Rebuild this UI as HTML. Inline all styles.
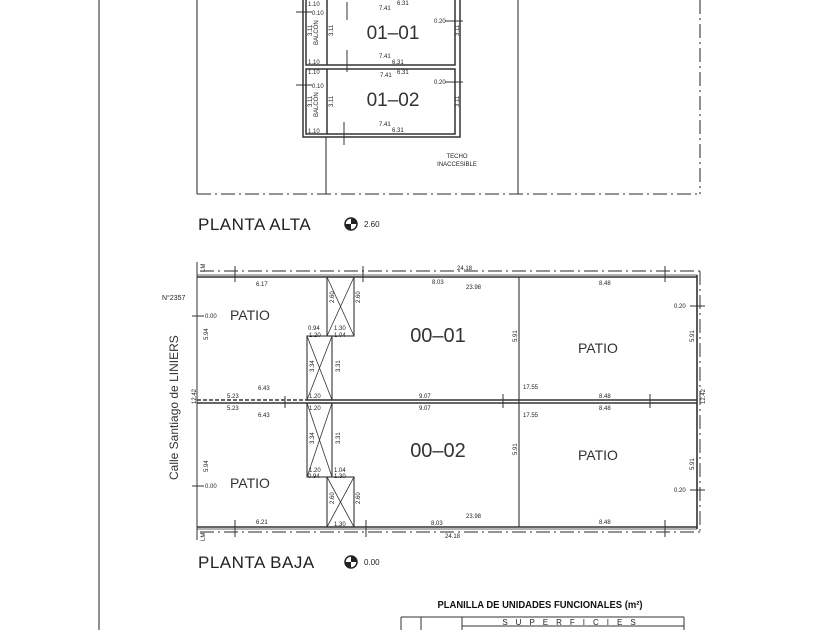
<!DOCTYPE html>
<html><head><meta charset="utf-8"><style>
html,body{margin:0;padding:0;background:#fff;}
svg{display:block;font-family:"Liberation Sans",sans-serif;}
.t{font-size:6px;fill:#222;}
</style></head><body>
<svg width="840" height="630" viewBox="0 0 840 630" xmlns="http://www.w3.org/2000/svg">
<rect width="840" height="630" fill="#fff"/>
<g stroke="#555" fill="none" stroke-width="1.3">
<line x1="99" y1="0" x2="99" y2="630"/>
<!-- planta alta -->
<line x1="197" y1="0" x2="197" y2="194"/>
<line x1="197" y1="194" x2="700" y2="194" stroke-dasharray="14,4,2,4"/>
<line x1="700" y1="0" x2="700" y2="194" stroke-dasharray="14,4,2,4"/>
<line x1="518" y1="0" x2="518" y2="194"/>
<line x1="326" y1="137" x2="326" y2="194"/>
</g>
<g stroke="#333" fill="none" stroke-width="1.5">
<rect x="303" y="-2" width="157" height="139"/>
<rect x="306" y="-2" width="149" height="67"/>
<rect x="306" y="69" width="149" height="65"/>
<line x1="327" y1="0" x2="327" y2="65"/>
<line x1="327" y1="69" x2="327" y2="134"/>
</g>
<g stroke="#333" stroke-width="1">
<line x1="347" y1="2" x2="347" y2="20"/><line x1="347" y1="50" x2="347" y2="72"/>
<line x1="344" y1="122" x2="344" y2="145"/>
<line x1="296" y1="12" x2="312" y2="12"/><line x1="296" y1="85" x2="312" y2="85"/>
<line x1="445" y1="21" x2="463" y2="21"/><line x1="445" y1="82" x2="463" y2="82"/>
</g>
<g font-size="19" fill="#333" text-anchor="middle">
<text x="393" y="39">01–01</text><text x="393" y="106">01–02</text>
</g>
<g class="t">
<text x="308" y="6">1.10</text><text x="312" y="15">0.10</text><text x="308" y="64">1.10</text>
<text x="308" y="74">1.10</text><text x="312" y="88">0.10</text><text x="308" y="133">1.10</text>
<text x="379" y="10">7.41</text><text x="397" y="5">6.31</text>
<text x="379" y="58">7.41</text><text x="392" y="64">6.31</text>
<text x="380" y="77">7.41</text><text x="397" y="74">6.31</text>
<text x="379" y="126">7.41</text><text x="392" y="132">6.31</text>
<text x="434" y="23">0.20</text><text x="434" y="84">0.20</text>
<text transform="translate(318,45) rotate(-90)">BALCÓN</text>
<text transform="translate(318,117) rotate(-90)">BALCÓN</text>
<text transform="translate(312,36) rotate(-90)">3.11</text>
<text transform="translate(333,36) rotate(-90)">3.11</text>
<text transform="translate(312,107) rotate(-90)">3.11</text>
<text transform="translate(333,107) rotate(-90)">3.11</text>
<text transform="translate(459,36) rotate(-90)">3.11</text>
<text transform="translate(459,107) rotate(-90)">3.11</text>
<text x="457" y="158" text-anchor="middle">TECHO</text>
<text x="457" y="166" text-anchor="middle">INACCESIBLE</text>
</g>
<text x="198" y="230" font-size="17" fill="#222" letter-spacing="0.5">PLANTA  ALTA</text>
<circle cx="351" cy="224" r="6" fill="none" stroke="#222" stroke-width="1.5"/>
<path d="M351 218 A6 6 0 0 1 357 224 L351 224Z M351 230 A6 6 0 0 1 345 224 L351 224Z" fill="#222"/>
<text x="364" y="227" font-size="8" fill="#222">2.60</text>

<!-- planta baja -->
<g stroke="#555" fill="none" stroke-width="1.2">
<line x1="200" y1="271" x2="700" y2="271" stroke-dasharray="14,4,2,4"/>
<line x1="200" y1="532" x2="700" y2="532" stroke-dasharray="14,4,2,4"/>
<line x1="700" y1="271" x2="700" y2="532" stroke-dasharray="14,4,2,4"/>
<line x1="197" y1="262" x2="197" y2="540"/>
</g>
<g stroke="#333" fill="none" stroke-width="1.6">
<line x1="197" y1="277" x2="697" y2="277"/><line x1="197" y1="275" x2="697" y2="275" stroke-width="0.8"/>
<line x1="197" y1="527" x2="697" y2="527"/><line x1="197" y1="529" x2="697" y2="529" stroke-width="0.8"/>
<line x1="697" y1="275" x2="697" y2="529"/>
<line x1="519" y1="277" x2="519" y2="527" stroke-width="1.1"/>
<line x1="307" y1="400" x2="697" y2="400"/>
<line x1="307" y1="403" x2="697" y2="403"/>
<line x1="197" y1="400" x2="307" y2="400" stroke-dasharray="4,2"/>
<line x1="197" y1="403" x2="307" y2="403"/>
<rect x="327" y="277" width="27" height="59" stroke-width="1.1"/>
<path d="M327 277 L354 336 M354 277 L327 336" stroke-width="0.8"/>
<rect x="307" y="336" width="25" height="64" stroke-width="1.1"/>
<path d="M307 336 L332 400 M332 336 L307 400" stroke-width="0.8"/>
<rect x="307" y="403" width="25" height="74" stroke-width="1.1"/>
<path d="M307 403 L332 477 M332 403 L307 477" stroke-width="0.8"/>
<rect x="327" y="477" width="27" height="50" stroke-width="1.1"/>
<path d="M327 477 L354 527 M354 477 L327 527" stroke-width="0.8"/>
</g>
<g stroke="#333" stroke-width="1">
<line x1="235" y1="266" x2="235" y2="282"/><line x1="363" y1="266" x2="363" y2="282"/><line x1="665" y1="266" x2="665" y2="282"/>
<line x1="235" y1="520" x2="235" y2="537"/><line x1="366" y1="520" x2="366" y2="537"/><line x1="665" y1="520" x2="665" y2="537"/>
<line x1="192" y1="316" x2="204" y2="316"/><line x1="192" y1="486" x2="204" y2="486"/>
<line x1="690" y1="306" x2="705" y2="306"/><line x1="690" y1="490" x2="705" y2="490"/>
<line x1="285" y1="396" x2="285" y2="408"/><line x1="503" y1="394" x2="503" y2="408"/><line x1="650" y1="394" x2="650" y2="408"/>
</g>
<g font-size="20" fill="#333" text-anchor="middle">
<text x="438" y="342">00–01</text><text x="438" y="457">00–02</text>
</g>
<g font-size="14" fill="#333">
<text x="230" y="320">PATIO</text><text x="578" y="353">PATIO</text>
<text x="578" y="460">PATIO</text><text x="230" y="488">PATIO</text>
</g>
<g class="t">
<text x="256" y="286">6.17</text><text x="432" y="284">8.03</text><text x="466" y="289">23.98</text><text x="457" y="270">24.18</text><text x="599" y="285">8.48</text>
<text x="256" y="524">6.21</text><text x="431" y="525">8.03</text><text x="466" y="518">23.98</text><text x="445" y="538">24.18</text><text x="599" y="524">8.48</text>
<text x="227" y="398">5.23</text><text x="227" y="410">5.23</text><text x="258" y="390">6.43</text><text x="258" y="417">6.43</text>
<text x="419" y="398">9.07</text><text x="419" y="410">9.07</text><text x="599" y="398">8.48</text><text x="599" y="410">8.48</text>
<text x="523" y="389">17.55</text><text x="523" y="417">17.55</text>
<text x="308" y="330">0.94</text><text x="334" y="330">1.30</text><text x="309" y="337">1.20</text><text x="334" y="337">1.04</text>
<text x="309" y="472">1.20</text><text x="334" y="472">1.04</text><text x="308" y="478">0.94</text><text x="334" y="478">1.30</text>
<text x="309" y="398">1.20</text><text x="309" y="410">1.20</text><text x="334" y="526">1.30</text>
<text x="205" y="318">0.00</text><text x="205" y="488">0.00</text><text x="674" y="308">0.20</text><text x="674" y="492">0.20</text>
<text x="162" y="300" font-size="7">N°2357</text>
<text transform="translate(196,404) rotate(-90)">12.42</text>
<text transform="translate(705,404) rotate(-90)">12.42</text>
<text transform="translate(208,340) rotate(-90)">5.94</text>
<text transform="translate(208,472) rotate(-90)">5.94</text>
<text transform="translate(517,342) rotate(-90)">5.91</text>
<text transform="translate(517,455) rotate(-90)">5.91</text>
<text transform="translate(694,342) rotate(-90)">5.91</text>
<text transform="translate(694,470) rotate(-90)">5.91</text>
<text transform="translate(334,303) rotate(-90)">2.60</text>
<text transform="translate(360,303) rotate(-90)">2.60</text>
<text transform="translate(334,504) rotate(-90)">2.60</text>
<text transform="translate(360,504) rotate(-90)">2.60</text>
<text transform="translate(314,372) rotate(-90)">3.34</text>
<text transform="translate(340,372) rotate(-90)">3.31</text>
<text transform="translate(314,444) rotate(-90)">3.34</text>
<text transform="translate(340,444) rotate(-90)">3.31</text>
<text transform="translate(205,272) rotate(-90)">LM</text>
<text transform="translate(205,541) rotate(-90)">LM</text>
</g>
<text transform="translate(178,480) rotate(-90)" font-size="12" fill="#333">Calle  Santiago  de  LINIERS</text>
<text x="198" y="568" font-size="17" fill="#222" letter-spacing="0.5">PLANTA  BAJA</text>
<circle cx="351" cy="562" r="6" fill="none" stroke="#222" stroke-width="1.5"/>
<path d="M351 556 A6 6 0 0 1 357 562 L351 562Z M351 568 A6 6 0 0 1 345 562 L351 562Z" fill="#222"/>
<text x="364" y="565" font-size="8" fill="#222">0.00</text>

<text x="540" y="608" font-size="10.5" fill="#111" text-anchor="middle" font-weight="bold" transform="translate(540,0) scale(0.9,1) translate(-540,0)">PLANILLA DE UNIDADES FUNCIONALES (m²)</text>
<g stroke="#333" fill="none" stroke-width="1">
<line x1="401" y1="617" x2="401" y2="630"/><line x1="421" y1="617" x2="421" y2="630"/>
<line x1="401" y1="617" x2="684" y2="617"/><line x1="462" y1="617" x2="462" y2="630"/>
<line x1="684" y1="617" x2="684" y2="630"/><line x1="462" y1="626" x2="684" y2="626"/>
</g>
<text x="573" y="625" font-size="8" fill="#222" text-anchor="middle" letter-spacing="8">SUPERFICIES</text>
</svg>
</body></html>
